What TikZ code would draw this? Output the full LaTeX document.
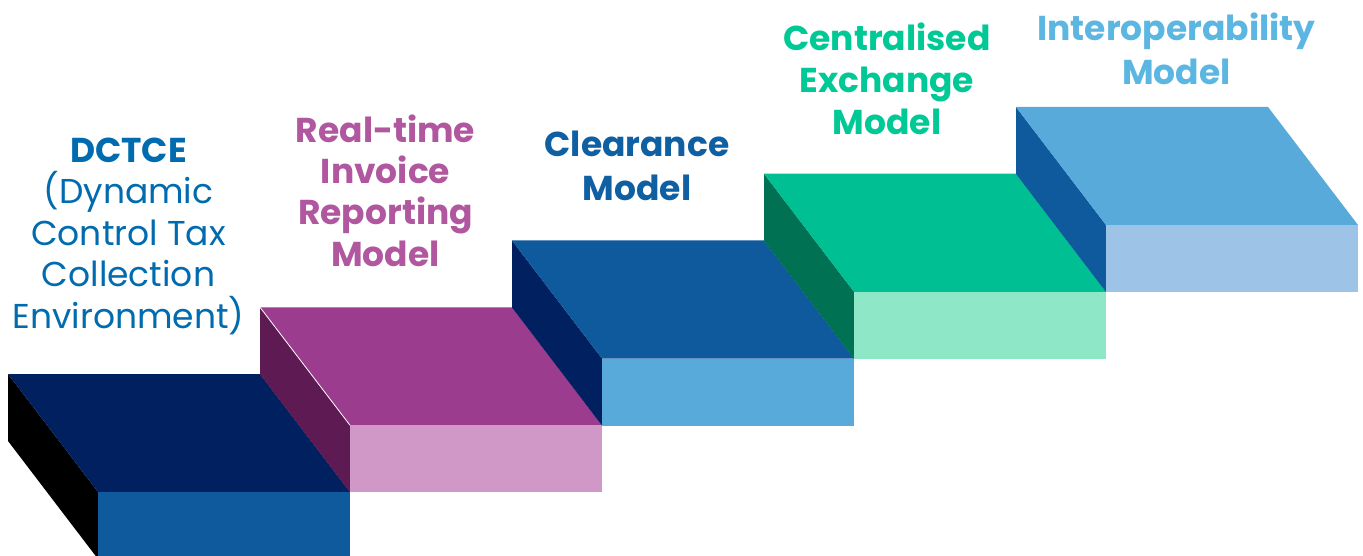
\documentclass[tikz,border=0pt]{standalone}
\usepackage{fontspec}
\setmainfont{Poppins}
\usetikzlibrary{calc}
\definecolor{navy}{HTML}{002060}
\definecolor{midblue}{HTML}{0E5A9C}
\definecolor{skyblue}{HTML}{57AADA}
\definecolor{paleblue}{HTML}{9DC3E6}
\definecolor{plum}{HTML}{9B3C8F}
\definecolor{plumdark}{HTML}{5E1A52}
\definecolor{plumlight}{HTML}{CF98C6}
\definecolor{jade}{HTML}{00BF93}
\definecolor{jadedark}{HTML}{007152}
\definecolor{jadelight}{HTML}{8EE8C8}
\definecolor{txtdctce}{HTML}{006BAE}
\definecolor{txtplum}{HTML}{B0579F}
\definecolor{txtblue}{HTML}{0F5FA3}
\definecolor{txtjade}{HTML}{00C996}
\definecolor{txtsky}{HTML}{5CB6E2}
% one stair block: back-left corner of its top face, then top, front and side colours
\newcommand\stairbox[5]{%
  \fill[#5] (#1,#2) -- ++(90,118) -- ++(0,67) -- ++(-90,-118) -- cycle;
  \fill[#3] (#1,#2) -- ++(252,0) -- ++(90,118) -- ++(-252,0) -- cycle;
  \fill[#4] ($(#1,#2)+(90,118)$) rectangle ++(252,67);
}
\begin{document}
\begin{tikzpicture}[x=1pt,y=-1pt,
  label/.style={anchor=base,align=center,inner sep=0pt,font=\fontsize{34.5}{42}\selectfont\bfseries},
  labelwide/.style={label,font=\fontsize{34.5}{44}\selectfont\bfseries}]
\useasboundingbox (0,0) rectangle (1363,556);
\begin{scope}
  \clip (0,0) rectangle (1363,556);
  \stairbox{8}{374}{navy}{midblue}{black}
  \stairbox{260}{307.25}{plum}{plumlight}{plumdark}
  \draw[white,line width=0.8pt] (260,307.25) -- ++(90,118);
  \stairbox{512}{240.5}{midblue}{skyblue}{navy}
  \stairbox{764}{173.75}{jade}{jadelight}{jadedark}
  \stairbox{1016}{107}{skyblue}{paleblue}{midblue}
\end{scope}
% labels are anchored on the baseline of their last line
\node[label,text=txtdctce,font=\fontsize{34.5}{41.5}\selectfont] (dctce) at (128.5,328)
  {\textbf{DCTCE}\\(Dynamic\\Control Tax\\Collection\\Environment)};
\node[label,text=txtplum,font=\fontsize{34.5}{41.3}\selectfont\bfseries] (rtir) at (385.5,266) {Real-time\\Invoice\\Reporting\\Model};
\node[labelwide,text=txtblue] (clear) at (637,201) {Clearance\\Model};
\node[label,text=txtjade] (central) at (887,135) {Centralised\\Exchange\\Model};
\node[labelwide,text=txtsky] (interop) at (1176.5,85) {Interoperability\\Model};
\end{tikzpicture}
\end{document}
